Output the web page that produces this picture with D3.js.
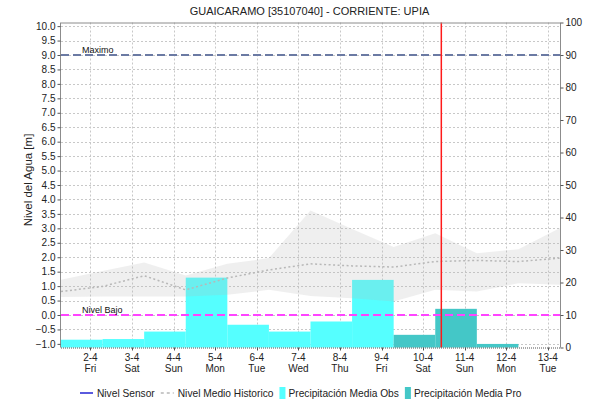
<!DOCTYPE html>
<html>
<head>
<meta charset="utf-8">
<script src="https://cdn.jsdelivr.net/npm/d3@7"></script>
<style>
  body { margin: 0; background: #fff; }
  svg { display: block; font-family: "Liberation Sans", Arial, sans-serif; }
</style>
</head>
<body>
<svg id="chart" width="589" height="403"></svg>
<script>
// Station water level (m) with historic band and daily precipitation (mm)
const title = "GUAICARAMO [35107040] - CORRIENTE: UPIA";

// Historic level statistics, sampled at 07:00 each day
const histTimes = ["2021-04-01T07:00", "2021-04-02T07:00", "2021-04-03T07:00", "2021-04-04T07:00",
  "2021-04-05T07:00", "2021-04-06T07:00", "2021-04-07T07:00", "2021-04-08T07:00", "2021-04-09T07:00",
  "2021-04-10T07:00", "2021-04-11T07:00", "2021-04-12T07:00", "2021-04-13T07:00"];
const histMax  = [1.22, 1.52, 1.82, 1.37, 1.77, 1.97, 3.62, 2.98, 2.35, 2.83, 2.14, 2.28, 3.01];
const histMin  = [0.62, 0.64, 0.64, 0.64, 0.70, 0.87, 0.66, 0.58, 0.47, 0.87, 0.81, 1.10, 1.05];
const histMean = [0.81, 0.99, 1.36, 0.87, 1.28, 1.56, 1.77, 1.70, 1.66, 1.85, 1.89, 1.85, 1.97];

// Daily precipitation, 07:00 to 07:00, keyed by the end of each period
const precipEnd = ["2021-04-02T07:00", "2021-04-03T07:00", "2021-04-04T07:00", "2021-04-05T07:00",
  "2021-04-06T07:00", "2021-04-07T07:00", "2021-04-08T07:00", "2021-04-09T07:00",
  "2021-04-10T07:00", "2021-04-11T07:00", "2021-04-12T07:00", "2021-04-13T07:00"];
const precipObs = [2.4, 2.6, 4.9, 21.5, 7.0, 4.9, 8.0, 20.8, null, null, null, null];
const precipPro = [null, null, null, null, null, null, null, null, 3.9, 11.9, 1.1, 0];

// Axis ticks
const dayTicks = ["2021-04-02", "2021-04-03", "2021-04-04", "2021-04-05", "2021-04-06", "2021-04-07",
  "2021-04-08", "2021-04-09", "2021-04-10", "2021-04-11", "2021-04-12", "2021-04-13"];
const levelTicks = [-1.0, -0.5, 0.0, 0.5, 1.0, 1.5, 2.0, 2.5, 3.0, 3.5, 4.0, 4.5, 5.0, 5.5,
  6.0, 6.5, 7.0, 7.5, 8.0, 8.5, 9.0, 9.5, 10.0];
const precipTicks = [0, 10, 20, 30, 40, 50, 60, 70, 80, 90, 100];

// Reference levels and current time
const nivelMaximo = 9.0;
const nivelBajo = 0.0;
const nowTime = "2021-04-10T10:30";
const timeStart = "2021-04-01T07:00";
const timeEnd = "2021-04-13T07:00";

const parseT = d3.utcParse("%Y-%m-%dT%H:%M");
const parseD = d3.utcParse("%Y-%m-%d");
const dayMs = 24 * 3600 * 1000;

const svg = d3.select("#chart");
const L = 61, R = 560, T = 22.5, B = 347.5;

const x = d3.scaleUtc().domain([parseT(timeStart), parseT(timeEnd)]).range([L, R]);
const yL = d3.scaleLinear().domain([-1.125, 10.125]).range([B, T]);
const yR = d3.scaleLinear().domain([0, 100]).range([B, T]);

// Title
svg.append("text").attr("x", 309.5).attr("y", 15).attr("text-anchor", "middle")
  .attr("font-size", 11).attr("fill", "#222").text(title);

// Grid
const grid = svg.append("g").attr("stroke", "#c8c8c8").attr("stroke-width", 1)
  .attr("stroke-dasharray", "2,2");
levelTicks.forEach(v => {
  const yy = Math.round(yL(v)) + 0.5;
  grid.append("line").attr("x1", L).attr("x2", R).attr("y1", yy).attr("y2", yy);
});
dayTicks.forEach(d => {
  const xx = Math.round(x(parseD(d))) + 0.5;
  grid.append("line").attr("x1", xx).attr("x2", xx).attr("y1", T).attr("y2", B);
});

// Precipitation bars
const bars = svg.append("g");
function drawBars(values, color) {
  values.forEach((v, i) => {
    if (v == null) return;
    const end = parseT(precipEnd[i]);
    const start = new Date(end.getTime() - dayMs);
    const x0 = Math.max(L, x(start)), x1 = Math.min(R, x(end));
    bars.append("rect").attr("x", x0).attr("width", x1 - x0)
      .attr("y", yR(v)).attr("height", B - yR(v)).attr("fill", color);
  });
}
drawBars(precipObs, "#55ffff");
drawBars(precipPro, "#44c7c7");

// Historic band and mean
const hist = histTimes.map((t, i) => ({ t: parseT(t), lo: histMin[i], hi: histMax[i], mean: histMean[i] }));
svg.append("path").datum(hist)
  .attr("d", d3.area().x(d => x(d.t)).y0(d => yL(d.lo)).y1(d => yL(d.hi)))
  .attr("fill", "#b4b4b4").attr("fill-opacity", 0.22);
svg.append("path").datum(hist)
  .attr("d", d3.line().x(d => x(d.t)).y(d => yL(d.mean)))
  .attr("fill", "none").attr("stroke", "#b8b8b8").attr("stroke-width", 1.5)
  .attr("stroke-dasharray", "2,2.5");

// Threshold lines
svg.append("line").attr("x1", L).attr("x2", R).attr("y1", yL(nivelMaximo)).attr("y2", yL(nivelMaximo))
  .attr("stroke", "#6b7aa3").attr("stroke-width", 2).attr("stroke-dasharray", "8,4");
svg.append("line").attr("x1", L).attr("x2", R).attr("y1", yL(nivelBajo)).attr("y2", yL(nivelBajo))
  .attr("stroke", "#ff44ff").attr("stroke-width", 2).attr("stroke-dasharray", "8,4");
svg.append("text").attr("x", 82).attr("y", yL(nivelMaximo) - 2.5).attr("font-size", 9)
  .attr("fill", "#111").text("Maximo");
svg.append("text").attr("x", 82).attr("y", yL(nivelBajo) - 2.5).attr("font-size", 9)
  .attr("fill", "#111").text("Nivel Bajo");

// Current time marker
const xNow = x(parseT(nowTime));
svg.append("line").attr("x1", xNow).attr("x2", xNow).attr("y1", T).attr("y2", B)
  .attr("stroke", "#ff1a1a").attr("stroke-width", 1.5);

// Frame
svg.append("line").attr("x1", L).attr("x2", R).attr("y1", T + 0.5).attr("y2", T + 0.5)
  .attr("stroke", "#8c8c8c");

// Left axis
const axL = svg.append("g").attr("transform", `translate(${L - 0.5},0)`)
  .call(d3.axisLeft(yL).tickValues(levelTicks).tickFormat(d3.format(".1f")).tickSize(3).tickPadding(2));
axL.select(".domain").attr("stroke", "#8c8c8c").attr("d", `M0,${T}V${B}`);
axL.selectAll(".tick line").attr("stroke", "#555");
axL.selectAll(".tick text").attr("font-size", 10).attr("fill", "#222")
  .attr("font-family", "Liberation Sans, Arial, sans-serif");

// Right axis
const axR = svg.append("g").attr("transform", `translate(${R + 0.5},0)`)
  .call(d3.axisRight(yR).tickValues(precipTicks).tickFormat(d3.format("d")).tickSize(3).tickPadding(2));
axR.select(".domain").attr("stroke", "#8c8c8c").attr("d", `M0,${T}V${B}`);
axR.selectAll(".tick line").attr("stroke", "#555");
axR.selectAll(".tick text").attr("font-size", 10).attr("fill", "#222")
  .attr("font-family", "Liberation Sans, Arial, sans-serif");

// Bottom axis
svg.append("line").attr("x1", L).attr("x2", R).attr("y1", B + 0.5).attr("y2", B + 0.5)
  .attr("stroke", "#555").attr("stroke-dasharray", "1,1");
const fmtDay = d3.utcFormat("%-d-%-m");
const fmtWk = d3.utcFormat("%a");
const xl = svg.append("g").attr("font-size", 10).attr("fill", "#222").attr("text-anchor", "middle");
dayTicks.forEach(d => {
  const t = parseD(d), xx = x(t);
  svg.append("line").attr("x1", Math.round(xx) + 0.5).attr("x2", Math.round(xx) + 0.5)
    .attr("y1", B).attr("y2", B + 3).attr("stroke", "#555");
  xl.append("text").attr("x", xx).attr("y", 361).text(fmtDay(t));
  xl.append("text").attr("x", xx).attr("y", 372).text(fmtWk(t));
});

// Axis title
svg.append("text").attr("transform", `translate(32,${(T + B) / 2 - 5}) rotate(-90)`)
  .attr("text-anchor", "middle").attr("font-size", 11.5).attr("fill", "#222").text("Nivel del Agua [m]");

// Legend
const legendItems = [
  { label: "Nivel Sensor", type: "line", color: "#0000cc", dash: null },
  { label: "Nivel Medio Historico", type: "line", color: "#b8b8b8", dash: "3,3" },
  { label: "Precipitación Media Obs", type: "box", color: "#55ffff" },
  { label: "Precipitación Media Pro", type: "box", color: "#44c7c7" }
];
const lg = svg.append("g").attr("font-size", 10.2).attr("fill", "#222");
let lx = 80;
const ly = 393;
legendItems.forEach(it => {
  if (it.type === "line") {
    lg.append("line").attr("x1", lx).attr("x2", lx + 13).attr("y1", ly).attr("y2", ly)
      .attr("stroke", it.color).attr("stroke-width", 1.3).attr("stroke-dasharray", it.dash);
    lx += 17;
  } else {
    lg.append("rect").attr("x", lx).attr("y", ly - 6).attr("width", 6).attr("height", 12)
      .attr("fill", it.color);
    lx += 9;
  }
  const tx = lg.append("text").attr("x", lx).attr("y", ly + 4).text(it.label);
  lx += tx.node().getComputedTextLength() + 6;
});
</script>
</body>
</html>
